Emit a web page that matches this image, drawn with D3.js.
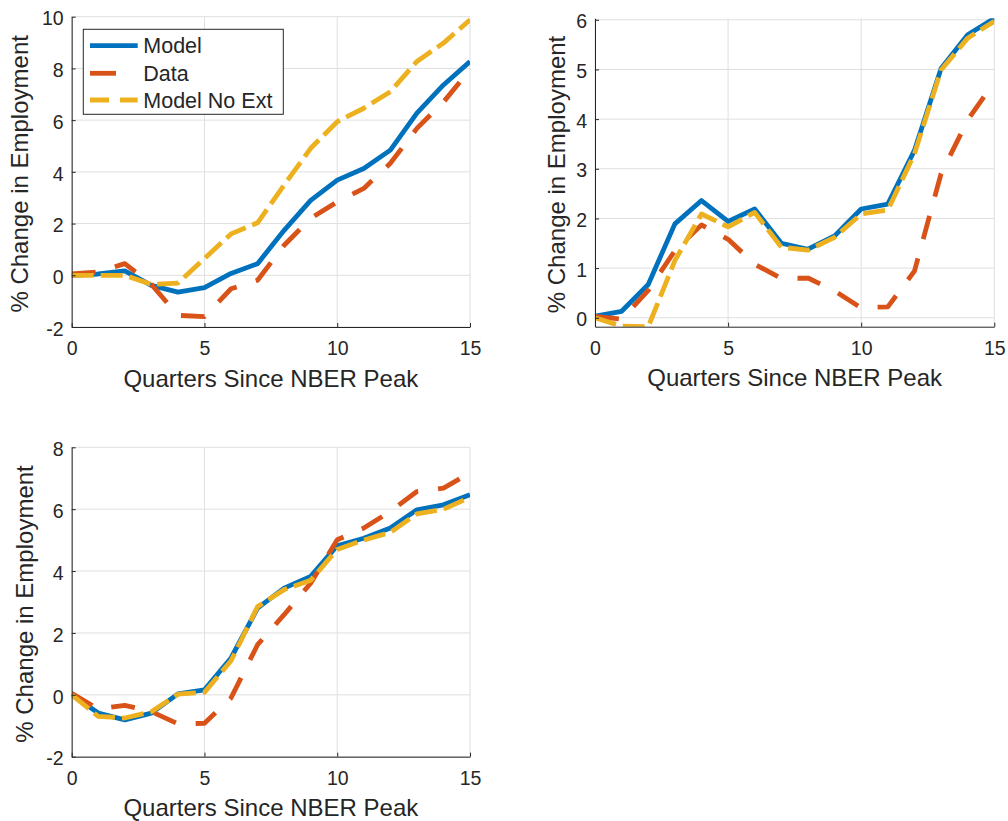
<!DOCTYPE html>
<html>
<head>
<meta charset="utf-8">
<script src="https://cdn.jsdelivr.net/npm/d3@7"></script>
<style>
  body { margin: 0; background: #fff; }
  text { font-family: "Liberation Sans", Arial, Helvetica, sans-serif; fill: #262626; }
</style>
</head>
<body>
<script>
// quarters since NBER peak
const quarters = [0, 1, 2, 3, 4, 5, 6, 7, 8, 9, 10, 11, 12, 13, 14, 15];
const xTicks = [0, 5, 10, 15];

// top left panel
const modelA = [0, 0.05, 0.17, -0.39, -0.65, -0.48, 0.07, 0.45, 1.74, 2.9, 3.68, 4.13, 4.84, 6.27, 7.36, 8.27];
const dataA = [0.05, 0.13, 0.45, -0.35, -1.55, -1.6, -0.52, -0.19, 1.16, 2.2, 2.84, 3.36, 4.33, 5.68, 6.7, 7.95];
const noExtA = [0, 0, 0, -0.35, -0.3, 0.65, 1.6, 2.03, 3.49, 4.91, 5.94, 6.46, 7.1, 8.27, 8.98, 9.88];
const yTicksA = [-2, 0, 2, 4, 6, 8, 10];

// top right panel
const modelB = [0.03, 0.13, 0.67, 1.89, 2.36, 1.94, 2.19, 1.5, 1.38, 1.65, 2.19, 2.29, 3.37, 5.02, 5.7, 6.03];
const dataB = [0.03, -0.03, 0.55, 1.35, 1.87, 1.58, 1.08, 0.79, 0.8, 0.54, 0.2, 0.22, 0.94, 2.9, 3.98, 4.75];
const noExtB = [0, -0.17, -0.18, 1.15, 2.09, 1.83, 2.12, 1.42, 1.36, 1.62, 2.09, 2.17, 3.3, 4.99, 5.63, 5.97];
const yTicksB = [0, 1, 2, 3, 4, 5, 6];

// bottom left panel
const modelC = [0, -0.59, -0.81, -0.59, 0.03, 0.16, 1.19, 2.8, 3.45, 3.83, 4.82, 5.06, 5.39, 5.98, 6.14, 6.47];
const dataC = [0.05, -0.46, -0.34, -0.54, -0.94, -0.92, -0.1, 1.62, 2.59, 3.61, 5.01, 5.39, 5.93, 6.57, 6.68, 7.17];
const noExtC = [0, -0.7, -0.75, -0.55, 0.02, 0.08, 1.1, 2.85, 3.4, 3.7, 4.7, 5.0, 5.25, 5.85, 6.0, 6.38];
const yTicksC = [-2, 0, 2, 4, 6, 8];

const seriesNames = ['Model', 'Data', 'Model No Ext'];
const colors = ['#0072BD', '#D95319', '#EDB120'];
const dashes = [null, '24,20', '22,7'];
const legendDashes = [null, '26,30', '19,11'];

const xLabel = 'Quarters Since NBER Peak';
const yLabel = '% Change in Employment';

const svg = d3.select('body').append('svg')
    .attr('width', 1008)
    .attr('height', 821);

const panels = [
    { id: 'a', left: 71.7, right: 470, top: 16.7, bottom: 327, yDomain: [-2, 10], yTicks: yTicksA,
      series: [modelA, dataA, noExtA], yLabelX: 28, legend: true },
    { id: 'b', left: 595, right: 994.3, top: 18.3, bottom: 326.7, yDomain: [-0.18, 6.03], yTicks: yTicksB,
      series: [modelB, dataB, noExtB], yLabelX: 565, legend: false },
    { id: 'c', left: 71.7, right: 470, top: 447.3, bottom: 756.7, yDomain: [-2, 8], yTicks: yTicksC,
      series: [modelC, dataC, noExtC], yLabelX: 33, legend: false }
];

function drawPanel(p) {
    const w = p.right - p.left;
    const h = p.bottom - p.top;
    const x = d3.scaleLinear().domain([0, 15]).range([0, w]);
    const y = d3.scaleLinear().domain(p.yDomain).range([h, 0]);

    const g = svg.append('g').attr('transform', 'translate(' + p.left + ',' + p.top + ')');

    g.append('clipPath').attr('id', 'clip-' + p.id)
        .append('rect').attr('width', w).attr('height', h);

    // grid
    g.append('g')
        .selectAll('line')
        .data(xTicks)
        .join('line')
        .attr('x1', d => x(d)).attr('x2', d => x(d))
        .attr('y1', 0).attr('y2', h)
        .style('stroke', '#dfdfdf')
        .style('stroke-width', 1);
    g.append('g')
        .selectAll('line')
        .data(p.yTicks)
        .join('line')
        .attr('x1', 0).attr('x2', w)
        .attr('y1', d => y(d)).attr('y2', d => y(d))
        .style('stroke', '#dfdfdf')
        .style('stroke-width', 1);

    // lines
    const line = d3.line()
        .x((d, i) => x(quarters[i]))
        .y(d => y(d));
    const lines = g.append('g').attr('clip-path', 'url(#clip-' + p.id + ')');
    p.series.forEach(function (s, k) {
        lines.append('path')
            .datum(s)
            .attr('d', line)
            .style('fill', 'none')
            .style('stroke', colors[k])
            .style('stroke-width', 4.8)
            .style('stroke-linejoin', 'round')
            .style('stroke-dasharray', dashes[k]);
    });

    // axes
    const xAxis = g.append('g')
        .attr('transform', 'translate(0,' + h + ')')
        .call(d3.axisBottom(x).tickValues(xTicks).tickFormat(d => String(d))
            .tickSizeInner(-4).tickSizeOuter(0).tickPadding(14));
    const yAxis = g.append('g')
        .call(d3.axisLeft(y).tickValues(p.yTicks).tickFormat(d => String(d))
            .tickSizeInner(-4).tickSizeOuter(0).tickPadding(8));
    [xAxis, yAxis].forEach(function (a) {
        a.select('.domain').style('stroke', '#262626').style('stroke-width', 1);
        a.selectAll('.tick line').style('stroke', '#262626');
        a.selectAll('.tick text')
            .style('font-size', '19.5px')
            .style('fill', '#262626')
            .style('font-family', '"Liberation Sans", Arial, sans-serif');
    });
    yAxis.selectAll('.tick text').attr('dy', '0.42em');

    // labels
    svg.append('text')
        .attr('x', p.left + w / 2)
        .attr('y', p.bottom + 59.5)
        .attr('text-anchor', 'middle')
        .style('font-size', '24px')
        .text(xLabel);
    svg.append('text')
        .attr('transform', 'translate(' + p.yLabelX + ',' + (p.top + h / 2 + 2) + ') rotate(-90)')
        .attr('text-anchor', 'middle')
        .style('font-size', '24px')
        .text(yLabel);

    if (p.legend) {
        const lg = svg.append('g');
        lg.append('rect')
            .attr('x', 83.3).attr('y', 29.3)
            .attr('width', 200).attr('height', 85)
            .style('fill', '#fff')
            .style('stroke', '#262626')
            .style('stroke-width', 1);
        const rowY = [45.7, 73.3, 100];
        seriesNames.forEach(function (name, k) {
            lg.append('line')
                .attr('x1', 90).attr('x2', 137.7)
                .attr('y1', rowY[k]).attr('y2', rowY[k])
                .style('stroke', colors[k])
                .style('stroke-width', 4.8)
                .style('stroke-dasharray', legendDashes[k]);
            lg.append('text')
                .attr('x', 143.3)
                .attr('y', rowY[k] + 7.7)
                .style('font-size', '21.5px')
                .text(name);
        });
    }
}

panels.forEach(drawPanel);
</script>
</body>
</html>
